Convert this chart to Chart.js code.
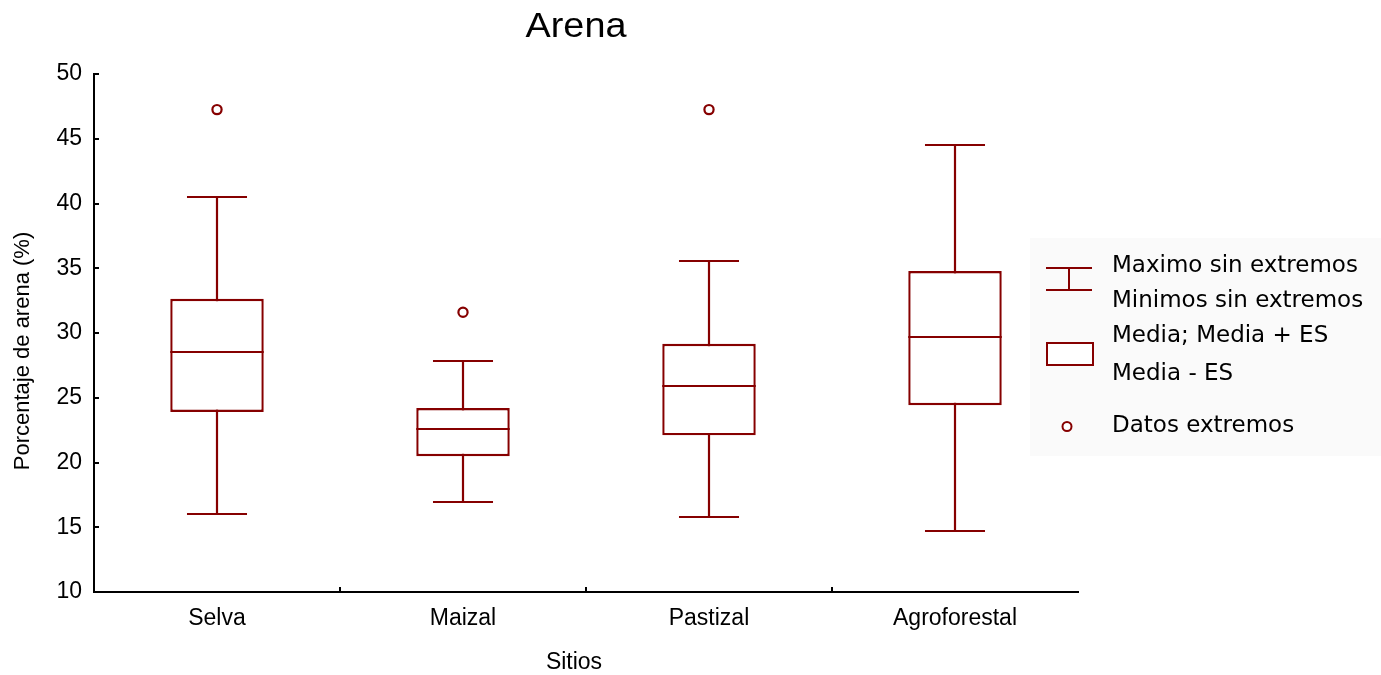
<!DOCTYPE html>
<html>
<head>
<meta charset="utf-8">
<title>Arena</title>
<script src="https://cdn.jsdelivr.net/npm/chart.js@4/dist/chart.umd.min.js"></script>
<style>
  html, body { margin: 0; padding: 0; background: #ffffff; }
  #wrap { width: 1381px; height: 675px; position: relative; }
</style>
</head>
<body>
<div id="wrap"><canvas id="c" width="1381" height="675"></canvas></div>
<script>
// Sand percentage per site: mean, mean ± SE, non-outlier range and extreme values
const sitios = ['Selva', 'Maizal', 'Pastizal', 'Agroforestal'];
const media = [28.5, 22.57, 25.9, 29.68];
const mediaMasES = [32.64, 24.2, 29.17, 34.78];
const mediaMenosES = [23.9, 20.49, 22.1, 24.43];
const maxSinExtremos = [40.53, 27.83, 35.55, 44.55];
const minSinExtremos = [16.05, 16.96, 15.8, 14.74];
const datosExtremos = [47.25, 31.6, 47.25, null];

const yMin = 10, yMax = 50, yStep = 5;

const titulo = 'Arena';
const tituloX = 'Sitios';
const tituloY = 'Porcentaje de arena (%)';
const leyenda = [
  ['Maximo sin extremos', 'Minimos sin extremos'],
  ['Media; Media + ES', 'Media - ES'],
  ['Datos extremos']
];

const ROJO = '#860000';
const FONT = '"Liberation Sans", Arial, sans-serif';
const FONT_LEYENDA = '"DejaVu Sans", Verdana, sans-serif';

// Whiskers, caps, mean line, axis ticks, titles and the legend panel
const boxExtras = {
  id: 'boxExtras',
  beforeDatasetsDraw(chart) {
    const { ctx, scales: { x, y } } = chart;
    const cat = x.getPixelForValue(1) - x.getPixelForValue(0);
    const cap = cat * 0.122;
    ctx.save();
    ctx.strokeStyle = ROJO;
    ctx.lineWidth = 2.2;
    sitios.forEach((_, i) => {
      const cx = Math.round(x.getPixelForValue(i));
      const yMaxP = Math.round(y.getPixelForValue(maxSinExtremos[i]));
      const yMinP = Math.round(y.getPixelForValue(minSinExtremos[i]));
      ctx.beginPath();
      ctx.moveTo(cx, yMaxP);
      ctx.lineTo(cx, yMinP);
      ctx.moveTo(cx - cap, yMaxP);
      ctx.lineTo(cx + cap, yMaxP);
      ctx.moveTo(cx - cap, yMinP);
      ctx.lineTo(cx + cap, yMinP);
      ctx.stroke();
    });
    ctx.restore();
  },
  afterDatasetsDraw(chart) {
    const { ctx, scales: { y } } = chart;
    const bars = chart.getDatasetMeta(0).data;
    ctx.save();
    ctx.strokeStyle = ROJO;
    ctx.lineWidth = 2.2;
    bars.forEach((bar, i) => {
      const ym = Math.round(y.getPixelForValue(media[i]));
      ctx.beginPath();
      ctx.moveTo(bar.x - bar.width / 2, ym);
      ctx.lineTo(bar.x + bar.width / 2, ym);
      ctx.stroke();
    });
    ctx.restore();
  },
  afterDraw(chart) {
    const { ctx, chartArea: a, scales: { x, y } } = chart;
    ctx.save();
    // inward tick marks
    ctx.strokeStyle = '#000';
    ctx.lineWidth = 2;
    ctx.beginPath();
    y.ticks.forEach(t => {
      const py = Math.round(y.getPixelForValue(t.value));
      ctx.moveTo(a.left, py);
      ctx.lineTo(a.left + 5, py);
    });
    for (let i = 0; i < sitios.length - 1; i++) {
      const px = Math.round((x.getPixelForValue(i) + x.getPixelForValue(i + 1)) / 2);
      ctx.moveTo(px, a.bottom);
      ctx.lineTo(px, a.bottom - 5);
    }
    ctx.stroke();

    // titles
    ctx.fillStyle = '#000';
    ctx.textAlign = 'center';
    ctx.textBaseline = 'alphabetic';
    ctx.save();
    ctx.translate(576, 37);
    ctx.scale(1.08, 1);
    ctx.font = '35px ' + FONT;
    ctx.fillText(titulo, 0, 0);
    ctx.restore();

    ctx.font = '23px ' + FONT;
    ctx.fillText(tituloX, 574, 669);

    ctx.save();
    ctx.translate(29, 351);
    ctx.rotate(-Math.PI / 2);
    ctx.font = '22px ' + FONT;
    ctx.fillText(tituloY, 0, 0);
    ctx.restore();

    // legend panel
    ctx.fillStyle = '#fafafa';
    ctx.fillRect(1030, 238, 351, 218);
    ctx.strokeStyle = ROJO;
    ctx.lineWidth = 2;
    ctx.beginPath();
    ctx.moveTo(1046, 268); ctx.lineTo(1092, 268);
    ctx.moveTo(1046, 290); ctx.lineTo(1092, 290);
    ctx.moveTo(1069, 268); ctx.lineTo(1069, 290);
    ctx.stroke();
    ctx.fillStyle = '#fff';
    ctx.fillRect(1047, 343, 46, 22);
    ctx.strokeRect(1047, 343, 46, 22);
    ctx.beginPath();
    ctx.arc(1067, 426.5, 4.5, 0, Math.PI * 2);
    ctx.fill();
    ctx.stroke();

    ctx.fillStyle = '#000';
    ctx.textAlign = 'left';
    ctx.font = '23px ' + FONT_LEYENDA;
    const filas = [[272, 307], [342, 380], [432]];
    leyenda.forEach((lineas, r) => {
      lineas.forEach((txt, k) => ctx.fillText(txt, 1112, filas[r][k]));
    });
    ctx.restore();
  }
};

new Chart(document.getElementById('c'), {
  type: 'bar',
  data: {
    labels: sitios,
    datasets: [
      {
        label: 'Media; Media + ES / Media - ES',
        data: sitios.map((_, i) => [mediaMenosES[i], mediaMasES[i]]),
        backgroundColor: '#ffffff',
        borderColor: ROJO,
        borderWidth: 2.4,
        borderSkipped: false,
        barPercentage: 0.38,
        categoryPercentage: 1,
        order: 2
      },
      {
        type: 'line',
        label: 'Datos extremos',
        data: datosExtremos,
        showLine: false,
        pointStyle: 'circle',
        pointRadius: 4.6,
        pointBorderWidth: 2.2,
        pointBackgroundColor: '#ffffff',
        pointBorderColor: ROJO,
        order: 1
      }
    ]
  },
  options: {
    responsive: false,
    animation: false,
    events: [],
    layout: { padding: { top: 74, right: 303, left: 0, bottom: 0 } },
    plugins: {
      legend: { display: false },
      tooltip: { enabled: false },
      title: { display: false }
    },
    scales: {
      x: {
        type: 'category',
        offset: true,
        grid: { display: true, drawOnChartArea: false, drawTicks: false },
        border: { display: true, color: '#000', width: 2 },
        ticks: { color: '#000', padding: 13, font: { family: FONT, size: 23 }, maxRotation: 0 },
        afterFit(s) { s.height = 83; }
      },
      y: {
        min: yMin,
        max: yMax,
        grid: { display: true, drawOnChartArea: false, drawTicks: false },
        border: { display: true, color: '#000', width: 2 },
        ticks: { stepSize: yStep, color: '#000', padding: 12, font: { family: FONT, size: 23 } },
        afterFit(s) { s.width = 94; }
      }
    }
  },
  plugins: [boxExtras]
});
</script>
</body>
</html>
